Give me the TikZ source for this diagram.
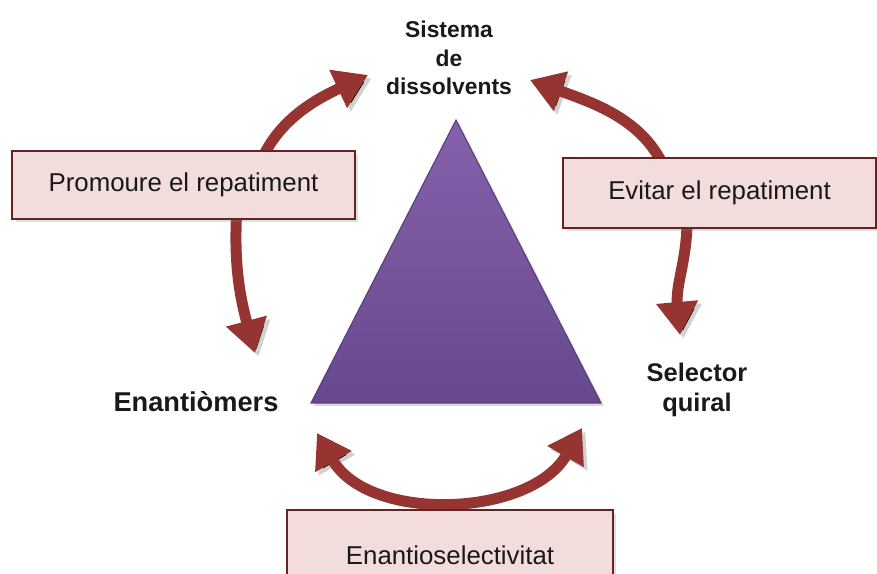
\documentclass[tikz,border=0pt]{standalone}
\usepackage{fontspec}
\setmainfont{Liberation Sans}
\usepackage{tikz}
\usetikzlibrary{arrows.meta,shadows}
\definecolor{arrowred}{RGB}{150,52,50}
\definecolor{boxfill}{RGB}{242,221,220}
\definecolor{boxedge}{RGB}{99,37,35}
\definecolor{tritop}{RGB}{133,98,172}
\definecolor{tribot}{RGB}{103,72,141}
\definecolor{triedge}{RGB}{88,60,122}
\tikzset{
  bend arrow/.style={draw=arrowred, line width=0.22cm, -{Triangle[length=0.66cm, width=0.8cm]},
    preaction={draw=black, draw opacity=0.18, transform canvas={shift={(2pt,-2pt)}}}},
  both arrow/.style={bend arrow, {Triangle[length=0.66cm, width=0.8cm]}-{Triangle[length=0.66cm, width=0.8cm]}},
  textbox/.style={draw=boxedge, line width=1.2pt, fill=boxfill, rectangle, inner sep=0pt,
    font=\fontsize{14.7}{17}\selectfont, text=black!90,
    drop shadow={opacity=0.25, shadow xshift=2pt, shadow yshift=-2pt}},
  corner/.style={align=center, font=\fontsize{13}{16.2}\selectfont\bfseries, text=black!90}
}

\begin{document}
\begin{tikzpicture}[x=0.02cm, y=0.02cm]
  \useasboundingbox (0,0) rectangle (877,574);
  \clip (0,0) rectangle (877,574);

  % triangle
  \coordinate (apex) at (456,454);
  \coordinate (bl) at (311,171);
  \coordinate (br) at (601,171);
  \fill[black, opacity=0.15] ([shift={(3,-3)}]apex) -- ([shift={(3,-3)}]bl) -- ([shift={(3,-3)}]br) -- cycle;
  \shade[top color=tritop, bottom color=tribot, draw=triedge, line width=0.6pt] (apex) -- (bl) -- (br) -- cycle;

  % corner labels
  \node[corner] (sist) at (449,516) {Sistema\\de\\dissolvents};
  \node[corner, font=\fontsize{15.5}{18}\selectfont\bfseries] (enan) at (196,172) {Enanti\`omers};
  \node[corner, font=\fontsize{14.5}{17}\selectfont\bfseries] (sel) at (697,184) {Selector\\quiral};

  % arrow ends
  \coordinate (promo in) at (252,380);
  \coordinate (promo out) at (238,380);
  \coordinate (evit in) at (672,380);
  \coordinate (evit out) at (685,380);
  \coordinate (tip sist l) at (368,499);
  \coordinate (tip sist r) at (530,494);
  \coordinate (tip enan) at (255,221);
  \coordinate (tip sel) at (680,239);
  \coordinate (tip bl) at (317,141);
  \coordinate (tip br) at (582,146);

  \draw[bend arrow] (promo in) to[out=82, in=205] (tip sist l);
  \draw[bend arrow] (promo out) to[out=-95, in=105] (tip enan);
  \draw[bend arrow] (evit in) to[out=100, in=-20] (tip sist r);
  \draw[bend arrow] (evit out) to[out=-82, in=95] (tip sel);
  \draw[both arrow] (tip bl) to[out=-60, in=-120] (tip br);

  % boxes
  \node[textbox, minimum width=6.86cm, minimum height=1.36cm] (promo) at (183.5,389) {Promoure el repatiment};
  \node[textbox, minimum width=6.26cm, minimum height=1.4cm] (evit) at (719.5,381) {Evitar el repatiment};
  \node[textbox, minimum width=6.52cm, minimum height=1.8cm] (enantio) at (450,19) {Enantioselectivitat};
\end{tikzpicture}
\end{document}
